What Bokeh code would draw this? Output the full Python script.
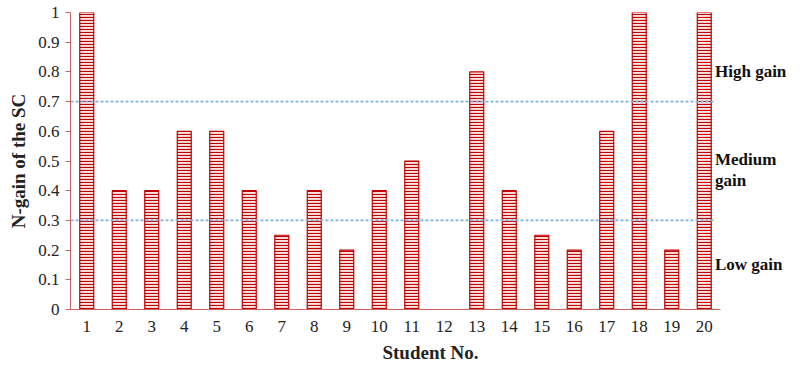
from bokeh.plotting import figure
from bokeh.models import Label, FixedTicker, CustomJSTickFormatter, ColumnDataSource
from bokeh.embed import file_html
from bokeh.resources import INLINE

students = list(range(1, 21))
ngain = [1.0, 0.4, 0.4, 0.6, 0.6, 0.4, 0.25, 0.4, 0.2, 0.4, 0.5, 0.0, 0.8, 0.4, 0.25, 0.2, 0.6, 1.0, 0.2, 1.0]
thresholds = [0.3, 0.7]
band_labels = ["High gain", "Medium", "gain", "Low gain"]
band_label_y = [0.80, 0.505, 0.435, 0.152]
y_ticks = [i / 10 for i in range(11)]

SERIF = "Liberation Serif"
X_END = 0.5 + 720 / 32.5

p = figure(width=792, height=365, output_backend="svg", toolbar_location=None,
           x_range=(0.5, X_END), y_range=(0, 1.0),
           min_border_left=70, min_border_right=2, min_border_top=12, min_border_bottom=54)
p.outline_line_color = None
p.grid.visible = False

src = ColumnDataSource(dict(x=students, top=ngain))
p.vbar(x="x", top="top", bottom=0, width=0.43, source=src,
       fill_color="#FBE4E4", line_color="#C00000", line_width=1.2,
       hatch_pattern="-", hatch_color="#C00000", hatch_scale=3, hatch_weight=1.2)

p.segment(x0=[0.5] * len(thresholds), x1=[20.3] * len(thresholds), y0=thresholds, y1=thresholds,
          line_color="#7FB4DC", line_dash="3 2", line_width=1.6)

axis_col = "#C86464"
p.xaxis.ticker = FixedTicker(ticks=students)
p.xaxis.bounds = (0.5, 20.5)
p.yaxis.ticker = FixedTicker(ticks=y_ticks)
p.yaxis.formatter = CustomJSTickFormatter(code="return tick.toFixed(1).replace(/\\.0$/, '');")
for ax in (p.xaxis, p.yaxis):
    ax.axis_line_color = axis_col
    ax.major_tick_line_color = axis_col
    ax.minor_tick_line_color = None
    ax.major_label_text_font = SERIF
    ax.major_label_text_font_size = "17px"
    ax.major_label_text_color = "#222222"
    ax.axis_label_text_font = SERIF
    ax.axis_label_text_font_style = "bold"
    ax.axis_label_text_color = "#222222"
p.xaxis.major_tick_out = 0
p.xaxis.major_tick_in = 0
p.xaxis.major_label_standoff = 11
p.yaxis.major_tick_out = 5
p.yaxis.major_tick_in = 0
p.yaxis.major_label_standoff = 6
p.xaxis.axis_label = "Student No."
p.xaxis.axis_label_text_font_size = "19px"
p.xaxis.axis_label_standoff = 7
p.yaxis.axis_label = "N-gain of the SC"
p.yaxis.axis_label_text_font_size = "19px"
p.yaxis.axis_label_standoff = 6

for txt, yv in zip(band_labels, band_label_y):
    p.add_layout(Label(x=20.33, y=yv, text=txt, text_font=SERIF, text_font_size="17px",
                       text_font_style="bold", text_color="#111111",
                       text_baseline="middle", text_align="left"))

open("out.html", "w").write(file_html(p, INLINE))
